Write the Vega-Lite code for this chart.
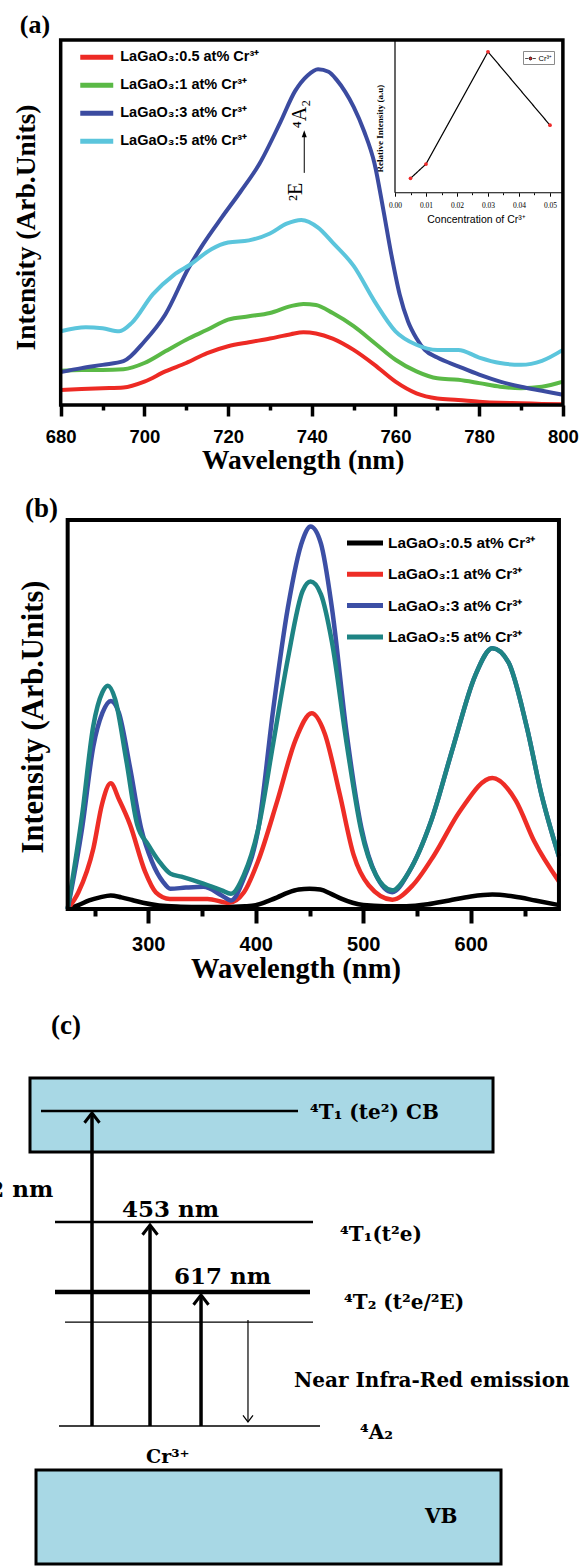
{
  "$schema": "https://vega.github.io/schema/vega-lite/v6.json",
  "background": "white",
  "padding": 0,
  "spacing": 0,
  "bounds": "flush",
  "resolve": {"scale": {"color": "independent", "strokeDash": "independent"}, "legend": {"color": "independent"}},
  "config": {
    "view": {"stroke": null},
    "font": "Liberation Sans",
    "axis": {"grid": false, "domain": false, "labelColor": "black", "titleColor": "black", "tickColor": "black"}
  },
  "datasets": {
    "specA": [
      {"s":"0.5","x":680,"y":4.1},{"s":"0.5","x":685,"y":4.4},{"s":"0.5","x":690,"y":4.6},{"s":"0.5","x":695,"y":4.8},{"s":"0.5","x":700,"y":6.4},{"s":"0.5","x":705,"y":9.2},{"s":"0.5","x":710,"y":11.5},{"s":"0.5","x":715,"y":14.2},{"s":"0.5","x":720,"y":16.1},{"s":"0.5","x":725,"y":17.2},{"s":"0.5","x":730,"y":18.2},{"s":"0.5","x":735,"y":19.4},{"s":"0.5","x":738,"y":19.9},{"s":"0.5","x":741,"y":19.6},{"s":"0.5","x":745,"y":18.2},{"s":"0.5","x":750,"y":15.1},{"s":"0.5","x":755,"y":11.0},{"s":"0.5","x":760,"y":6.4},{"s":"0.5","x":765,"y":3.2},{"s":"0.5","x":770,"y":1.8},{"s":"0.5","x":775,"y":1.4},{"s":"0.5","x":780,"y":0.9},{"s":"0.5","x":785,"y":0.6},{"s":"0.5","x":790,"y":0.5},{"s":"0.5","x":795,"y":0.3},{"s":"0.5","x":800,"y":0.2},
      {"s":"1","x":680,"y":9.4},{"s":"1","x":685,"y":9.6},{"s":"1","x":690,"y":9.6},{"s":"1","x":695,"y":9.8},{"s":"1","x":700,"y":11.5},{"s":"1","x":705,"y":14.7},{"s":"1","x":710,"y":17.9},{"s":"1","x":715,"y":20.6},{"s":"1","x":720,"y":23.4},{"s":"1","x":725,"y":24.3},{"s":"1","x":730,"y":25.2},{"s":"1","x":735,"y":27.1},{"s":"1","x":738,"y":27.7},{"s":"1","x":741,"y":27.4},{"s":"1","x":745,"y":25.2},{"s":"1","x":750,"y":21.6},{"s":"1","x":755,"y":17.0},{"s":"1","x":760,"y":12.4},{"s":"1","x":765,"y":9.2},{"s":"1","x":770,"y":7.3},{"s":"1","x":775,"y":6.9},{"s":"1","x":780,"y":6.0},{"s":"1","x":785,"y":5.0},{"s":"1","x":790,"y":4.6},{"s":"1","x":795,"y":5.0},{"s":"1","x":800,"y":6.4},
      {"s":"3","x":680,"y":9.0},{"s":"3","x":685,"y":10.1},{"s":"3","x":690,"y":11.0},{"s":"3","x":695,"y":12.0},{"s":"3","x":700,"y":17.4},{"s":"3","x":705,"y":24.8},{"s":"3","x":710.5,"y":37.4},{"s":"3","x":714,"y":44.0},{"s":"3","x":718.5,"y":51.4},{"s":"3","x":723,"y":58.5},{"s":"3","x":727.5,"y":66.1},{"s":"3","x":732.5,"y":77.5},{"s":"3","x":736,"y":86.0},{"s":"3","x":739,"y":90.3},{"s":"3","x":741.5,"y":92.0},{"s":"3","x":744,"y":91.3},{"s":"3","x":746,"y":89.0},{"s":"3","x":748,"y":85.8},{"s":"3","x":750,"y":81.7},{"s":"3","x":752.5,"y":75.0},{"s":"3","x":755,"y":66.1},{"s":"3","x":757,"y":54.1},{"s":"3","x":759,"y":41.3},{"s":"3","x":761,"y":30.3},{"s":"3","x":763,"y":22.9},{"s":"3","x":765,"y":18.3},{"s":"3","x":767,"y":15.1},{"s":"3","x":770,"y":13.0},{"s":"3","x":775,"y":10.6},{"s":"3","x":780,"y":8.3},{"s":"3","x":785,"y":6.4},{"s":"3","x":790,"y":5.0},{"s":"3","x":795,"y":3.9},{"s":"3","x":800,"y":2.8},
      {"s":"5","x":680,"y":20.2},{"s":"5","x":686,"y":21.3},{"s":"5","x":690,"y":21.0},{"s":"5","x":694,"y":20.2},{"s":"5","x":697,"y":22.5},{"s":"5","x":702,"y":30.3},{"s":"5","x":707,"y":35.6},{"s":"5","x":711,"y":38.5},{"s":"5","x":716,"y":42.7},{"s":"5","x":720,"y":44.5},{"s":"5","x":725,"y":45.1},{"s":"5","x":730,"y":47.0},{"s":"5","x":734,"y":49.7},{"s":"5","x":737.5,"y":50.7},{"s":"5","x":741.5,"y":48.6},{"s":"5","x":745,"y":44.5},{"s":"5","x":750,"y":38.1},{"s":"5","x":755,"y":28.4},{"s":"5","x":760,"y":20.2},{"s":"5","x":765,"y":16.5},{"s":"5","x":770,"y":15.1},{"s":"5","x":775,"y":15.1},{"s":"5","x":780,"y":13.0},{"s":"5","x":785,"y":11.5},{"s":"5","x":790,"y":11.0},{"s":"5","x":795,"y":12.1},{"s":"5","x":800,"y":15.1}
    ],
    "specB": [
      {"s":"0.5","x":225,"y":0},{"s":"0.5","x":235,"y":1.0},{"s":"0.5","x":245,"y":2.2},{"s":"0.5","x":255,"y":3.0},{"s":"0.5","x":265,"y":3.5},{"s":"0.5","x":275,"y":3.0},{"s":"0.5","x":285,"y":2.3},{"s":"0.5","x":295,"y":1.6},{"s":"0.5","x":310,"y":0.9},{"s":"0.5","x":330,"y":0.6},{"s":"0.5","x":350,"y":0.5},{"s":"0.5","x":370,"y":0.5},{"s":"0.5","x":390,"y":0.7},{"s":"0.5","x":400,"y":1.0},{"s":"0.5","x":410,"y":1.9},{"s":"0.5","x":420,"y":3.0},{"s":"0.5","x":430,"y":4.2},{"s":"0.5","x":440,"y":5.0},{"s":"0.5","x":450,"y":5.2},{"s":"0.5","x":460,"y":5.0},{"s":"0.5","x":470,"y":3.9},{"s":"0.5","x":480,"y":2.6},{"s":"0.5","x":490,"y":1.6},{"s":"0.5","x":500,"y":1.0},{"s":"0.5","x":520,"y":0.7},{"s":"0.5","x":540,"y":0.7},{"s":"0.5","x":560,"y":1.2},{"s":"0.5","x":580,"y":2.2},{"s":"0.5","x":600,"y":3.2},{"s":"0.5","x":620,"y":3.7},{"s":"0.5","x":640,"y":3.2},{"s":"0.5","x":660,"y":2.2},{"s":"0.5","x":682,"y":1.0},
      {"s":"1","x":225,"y":0},{"s":"1","x":235,"y":4.3},{"s":"1","x":249,"y":15.7},{"s":"1","x":257,"y":27.0},{"s":"1","x":265,"y":32.3},{"s":"1","x":273,"y":28.0},{"s":"1","x":283,"y":21.7},{"s":"1","x":297,"y":9.6},{"s":"1","x":307,"y":4.3},{"s":"1","x":320,"y":2.6},{"s":"1","x":355,"y":2.6},{"s":"1","x":375,"y":1.6},{"s":"1","x":389,"y":4.3},{"s":"1","x":402,"y":12.2},{"s":"1","x":420,"y":27.8},{"s":"1","x":437,"y":43.5},{"s":"1","x":452,"y":50.3},{"s":"1","x":464,"y":45.2},{"s":"1","x":478,"y":29.6},{"s":"1","x":491,"y":13.9},{"s":"1","x":505,"y":6.1},{"s":"1","x":527,"y":2.4},{"s":"1","x":546,"y":6.1},{"s":"1","x":566,"y":13.9},{"s":"1","x":590,"y":25.2},{"s":"1","x":620,"y":33.7},{"s":"1","x":642,"y":27.8},{"s":"1","x":659,"y":17.4},{"s":"1","x":682,"y":7.1},
      {"s":"3","x":225,"y":0},{"s":"3","x":238.5,"y":20.9},{"s":"3","x":248.8,"y":41.7},{"s":"3","x":257.3,"y":50.4},{"s":"3","x":265.2,"y":53.5},{"s":"3","x":272.7,"y":50.4},{"s":"3","x":282.9,"y":36.5},{"s":"3","x":293.2,"y":20.9},{"s":"3","x":303.4,"y":12.2},{"s":"3","x":313.7,"y":7.0},{"s":"3","x":320.5,"y":5.2},{"s":"3","x":335,"y":5.5},{"s":"3","x":351.2,"y":5.7},{"s":"3","x":368.3,"y":3.5},{"s":"3","x":376.9,"y":2.2},{"s":"3","x":388.8,"y":7.8},{"s":"3","x":402.5,"y":20.9},{"s":"3","x":416.2,"y":51.3},{"s":"3","x":429.8,"y":77.4},{"s":"3","x":443.5,"y":94.8},{"s":"3","x":451,"y":98.3},{"s":"3","x":460.6,"y":93.9},{"s":"3","x":470.8,"y":77.4},{"s":"3","x":484.5,"y":45.2},{"s":"3","x":498.2,"y":20.9},{"s":"3","x":511.8,"y":8.7},{"s":"3","x":526.9,"y":4.3},{"s":"3","x":542.6,"y":9.6},{"s":"3","x":563.1,"y":22.6},{"s":"3","x":583.6,"y":41.7},{"s":"3","x":604.1,"y":60.0},{"s":"3","x":620.1,"y":67.0},{"s":"3","x":634.8,"y":63.5},{"s":"3","x":651.9,"y":47.0},{"s":"3","x":665.6,"y":29.6},{"s":"3","x":682,"y":13.5},
      {"s":"5","x":225,"y":0},{"s":"5","x":238.5,"y":24.3},{"s":"5","x":248.8,"y":47.0},{"s":"5","x":257.3,"y":55.7},{"s":"5","x":262.4,"y":57.4},{"s":"5","x":269.2,"y":53.9},{"s":"5","x":279.5,"y":38.3},{"s":"5","x":289.7,"y":21.7},{"s":"5","x":300,"y":16.5},{"s":"5","x":310.2,"y":12.2},{"s":"5","x":320.5,"y":9.1},{"s":"5","x":330.8,"y":8.3},{"s":"5","x":351.2,"y":6.5},{"s":"5","x":368.3,"y":4.8},{"s":"5","x":376.9,"y":3.9},{"s":"5","x":388.8,"y":8.7},{"s":"5","x":402.5,"y":20.9},{"s":"5","x":416.2,"y":42.6},{"s":"5","x":429.8,"y":64.3},{"s":"5","x":443.5,"y":81.7},{"s":"5","x":451,"y":84.2},{"s":"5","x":460.6,"y":80.9},{"s":"5","x":470.8,"y":68.7},{"s":"5","x":484.5,"y":42.6},{"s":"5","x":498.2,"y":20.0},{"s":"5","x":511.8,"y":8.7},{"s":"5","x":526.9,"y":4.8},{"s":"5","x":542.6,"y":9.6},{"s":"5","x":563.1,"y":22.6},{"s":"5","x":583.6,"y":41.7},{"s":"5","x":604.1,"y":60.0},{"s":"5","x":620.1,"y":67.0},{"s":"5","x":634.8,"y":63.5},{"s":"5","x":651.9,"y":47.0},{"s":"5","x":665.6,"y":29.6},{"s":"5","x":682,"y":13.5}
    ],
    "inset": [
      {"c":0.005,"r":9.4},{"c":0.01,"r":18.8},{"c":0.03,"r":92.3},{"c":0.05,"r":44.2}
    ],
    "levels": [
      {"lv":"CB","x1":7.08,"x2":51.47,"e":69.3,"kind":"mid"},
      {"lv":"4T1","x1":9.5,"x2":54.06,"e":52.43,"kind":"mid"},
      {"lv":"4T2","x1":9.5,"x2":53.54,"e":41.79,"kind":"heavy"},
      {"lv":"2E","x1":11.23,"x2":54.06,"e":37.23,"kind":"light"},
      {"lv":"4A2","x1":10.19,"x2":55.27,"e":21.43,"kind":"light"}
    ],
    "arrows": [
      {"a":"262","x":15.89,"e1":21.43,"e2":69.0,"kind":"up"},
      {"a":"453","x":25.91,"e1":21.43,"e2":51.98,"kind":"up"},
      {"a":"617","x":34.72,"e1":21.43,"e2":41.34,"kind":"up"},
      {"a":"NIR","x":42.83,"e1":37.54,"e2":22.04,"kind":"down"}
    ],
    "labelsC": [
      {"t":"⁴T₁ (te²) CB","x":53.54,"e":69.0,"kind":"lvl"},
      {"t":"⁴T₁(t²e)","x":58.72,"e":50.46,"kind":"lvl"},
      {"t":"⁴T₂ (t²e/²E)","x":59.41,"e":40.12,"kind":"lvl"},
      {"t":"Near Infra-Red emission","x":50.78,"e":28.27,"kind":"lvl"},
      {"t":"⁴A₂","x":62.18,"e":20.36,"kind":"lvl"},
      {"t":"VB","x":73.4,"e":7.6,"kind":"lvl"},
      {"t":"453 nm","x":21.07,"e":54.26,"kind":"nm"},
      {"t":"617 nm","x":30.05,"e":44.07,"kind":"nm"},
      {"t":"262 nm","x":9.21,"e":57.29,"kind":"cut"},
      {"t":"Cr³⁺","x":25.22,"e":16.72,"kind":"small"},
      {"t":"(c)","x":11.4,"e":82.22,"kind":"panel"}
    ]
  },
  "vconcat": [
    {
      "width": 579,
      "height": 405,
      "layer": [
        {
          "layer": [
            {
              "data": {"name": "specA"},
              "mark": {"type": "line", "strokeWidth": 4, "interpolate": "monotone"},
              "encoding": {
                "x": {"field": "x", "type": "quantitative",
                  "scale": {"domain": [665.5, 803.85], "zero": false, "nice": false},
                  "axis": {"orient": "bottom", "values": [680,690,700,710,720,730,740,750,760,770,780,790,800],
                    "labelExpr": "datum.value % 20 === 0 ? datum.label : ''",
                    "tickSize": {"condition": {"test": "datum.value % 20 === 0", "value": 11}, "value": 5},
                    "tickWidth": 3.5, "labelFont": "Liberation Sans", "labelFontWeight": "bold", "labelFontSize": 18.5,
                    "labelPadding": 11, "labelFlush": false, "labelOverlap": false,
                    "title": "Wavelength (nm)", "titleFont": "Liberation Serif", "titleFontWeight": "bold", "titleFontSize": 27.5,
                    "titleX": 302.7, "titleY": 63.3, "titleBaseline": "alphabetic"}},
                "y": {"field": "y", "type": "quantitative",
                  "scale": {"domain": [0, 110.96], "zero": false, "nice": false},
                  "axis": {"orient": "left", "labels": false, "ticks": false, "title": "Intensity (Arb.Units)",
                    "titleFont": "Liberation Serif", "titleFontWeight": "bold", "titleFontSize": 27.5,
                    "titleX": 26, "titleY": 227, "titleBaseline": "middle"}},
                "color": {"field": "s", "type": "nominal",
                  "scale": {"domain": ["0.5", "1", "3", "5"], "range": ["#ed2a24", "#5ab946", "#3b4ba0", "#5bc5dc"]},
                  "legend": {"orient": "none", "legendX": 80, "legendY": 46.25, "title": null, "padding": 0,
                    "symbolType": "M-2,0H2", "symbolSize": 272, "symbolStrokeWidth": 5, "symbolOffset": 5.75,
                    "labelOffset": 12.5, "labelFont": "Liberation Sans", "labelFontWeight": "bold", "labelFontSize": 14.5,
                    "labelColor": "black", "labelLimit": 300, "rowPadding": 7,
                    "labelExpr": "'LaGaO₃:' + datum.label + ' at% Cr³⁺'"}}
              }
            },
            {
              "data": {"values": [{"x": 680, "x2": 800, "y": 0, "y2": 100}]},
              "mark": {"type": "rect", "filled": false, "color": "black", "strokeWidth": 3.5},
              "encoding": {
                "x": {"field": "x", "type": "quantitative"}, "x2": {"field": "x2"},
                "y": {"field": "y", "type": "quantitative"}, "y2": {"field": "y2"}
              }
            },
            {
              "data": {"values": [{"t": "(a)", "x": 673.86, "y": 104.1}]},
              "mark": {"type": "text", "font": "Liberation Serif", "fontWeight": "bold", "fontSize": 26, "align": "center", "baseline": "middle", "color": "black"},
              "encoding": {"x": {"field": "x", "type": "quantitative"}, "y": {"field": "y", "type": "quantitative"}, "text": {"field": "t"}}
            },
            {
              "data": {"values": [{"t": "⁴A₂", "x": 737.2, "y": 79.7}, {"t": "²E", "x": 736.2, "y": 58.4}]},
              "mark": {"type": "text", "font": "Liberation Serif", "fontSize": 20, "angle": 270, "align": "center", "baseline": "middle", "color": "black"},
              "encoding": {"x": {"field": "x", "type": "quantitative"}, "y": {"field": "y", "type": "quantitative"}, "text": {"field": "t"}}
            },
            {
              "data": {"values": [{"x": 738.2, "y": 63.6, "y2": 73.5}]},
              "mark": {"type": "rule", "strokeWidth": 1, "color": "black"},
              "encoding": {"x": {"field": "x", "type": "quantitative"}, "y": {"field": "y", "type": "quantitative"}, "y2": {"field": "y2"}}
            },
            {
              "data": {"values": [{"x": 738.2, "y": 75.3}]},
              "mark": {"type": "point", "shape": "M-1,2.8L0,0L1,2.8Z", "size": 25, "filled": true, "color": "black", "opacity": 1},
              "encoding": {"x": {"field": "x", "type": "quantitative"}, "y": {"field": "y", "type": "quantitative"}}
            }
          ]
        },
        {
          "layer": [
            {
              "data": {"values": [{"c": 0, "c2": 0.0542, "r": 0, "r2": 0}, {"c": 0, "c2": 0, "r": 0, "r2": 100}]},
              "mark": {"type": "rule", "strokeWidth": 1.2, "color": "black"},
              "encoding": {
                "x": {"field": "c", "type": "quantitative",
                  "scale": {"domain": [-0.12742, 0.059355], "zero": false, "nice": false},
                  "axis": {"orient": "bottom", "offset": -212.3, "values": [0,0.005,0.01,0.015,0.02,0.025,0.03,0.035,0.04,0.045,0.05],
                    "labelExpr": "abs(datum.value*100 - round(datum.value*100)) < 0.001 ? format(datum.value, '.2f') : ''",
                    "tickSize": {"condition": {"test": "abs(datum.value*100 - round(datum.value*100)) < 0.001", "value": 3.5}, "value": 2},
                    "tickWidth": 1, "labelFont": "Liberation Sans Narrow", "labelFontSize": 7.5, "labelPadding": 5.5,
                    "labelFlush": false, "labelOverlap": false,
                    "title": "Concentration of Cr³⁺", "titleFont": "Liberation Sans", "titleFontWeight": "normal", "titleFontSize": 10.5,
                    "titleX": 476, "titleY": 30, "titleBaseline": "alphabetic"}},
                "x2": {"field": "c2"},
                "y": {"field": "r", "type": "quantitative",
                  "scale": {"domain": [-139.0, 126.2], "zero": false, "nice": false},
                  "axis": {"orient": "left", "offset": -395, "labels": false, "ticks": false,
                    "title": "Relative Intensity (a.u)", "titleFont": "Liberation Serif", "titleFontWeight": "bold", "titleFontSize": 9,
                    "titleX": -16, "titleY": 128, "titleBaseline": "middle"}},
                "y2": {"field": "r2"}
              }
            },
            {
              "data": {"name": "inset"},
              "mark": {"type": "line", "strokeWidth": 1.2, "color": "black"},
              "encoding": {
                "x": {"field": "c", "type": "quantitative"},
                "y": {"field": "r", "type": "quantitative"},
                "strokeDash": {"datum": "Cr³⁺", "scale": {"range": [[1, 0]]},
                  "legend": {"orient": "none", "legendX": 523, "legendY": 51, "title": null, "padding": 1.5,
                    "strokeColor": "#8a8a8a", "symbolType": "M-1,0H-0.45M-0.28,0A0.28,0.28 0 1,1 0.28,0A0.28,0.28 0 1,1 -0.28,0M0.45,0H1",
                    "symbolSize": 110, "symbolStrokeColor": "black", "symbolStrokeWidth": 0.8, "symbolFillColor": "#e52a2a",
                    "labelFontSize": 7.5, "labelOffset": 2, "labelColor": "black"}}
              }
            },
            {
              "data": {"name": "inset"},
              "mark": {"type": "point", "filled": true, "size": 14, "color": "#ee2a2a", "opacity": 1},
              "encoding": {"x": {"field": "c", "type": "quantitative"}, "y": {"field": "r", "type": "quantitative"}}
            }
          ]
        }
      ],
      "resolve": {"scale": {"x": "independent", "y": "independent"}, "axis": {"x": "independent", "y": "independent"}}
    },
    {
      "width": 579,
      "height": 504,
      "layer": [
        {
          "data": {"name": "specB"},
          "mark": {"type": "line", "strokeWidth": 4.5, "interpolate": "monotone"},
          "encoding": {
            "x": {"field": "x", "type": "quantitative",
              "scale": {"domain": [162.05, 700.65], "zero": false, "nice": false},
              "axis": {"orient": "bottom", "values": [250,300,350,400,450,500,550,600,650],
                "labelExpr": "datum.value % 100 === 0 ? datum.label : ''",
                "tickSize": {"condition": {"test": "datum.value % 100 === 0", "value": 14}, "value": 7},
                "tickWidth": 4, "labelFont": "Liberation Sans", "labelFontWeight": "bold", "labelFontSize": 20,
                "labelPadding": 11, "labelFlush": false, "labelOverlap": false,
                "title": "Wavelength (nm)", "titleFont": "Liberation Serif", "titleFontWeight": "bold", "titleFontSize": 28.5,
                "titleX": 295.5, "titleY": 68, "titleBaseline": "alphabetic"}},
            "y": {"field": "y", "type": "quantitative",
              "scale": {"domain": [0, 129.56], "zero": false, "nice": false},
              "axis": {"orient": "left", "labels": false, "ticks": false, "title": "Intensity (Arb.Units)",
                "titleFont": "Liberation Serif", "titleFontWeight": "bold", "titleFontSize": 30.5,
                "titleX": 33, "titleY": 311.5, "titleBaseline": "middle"}},
            "color": {"field": "s", "type": "nominal",
              "scale": {"domain": ["0.5", "1", "3", "5"], "range": ["#000000", "#ee2d26", "#3c4fa5", "#1e8484"]},
              "legend": {"orient": "none", "legendX": 347, "legendY": 126.5, "title": null, "padding": 0,
                "symbolType": "M-2,0H2", "symbolSize": 324, "symbolStrokeWidth": 5, "symbolOffset": 6.5,
                "labelOffset": 11.5, "labelFont": "Liberation Sans", "labelFontWeight": "bold", "labelFontSize": 15.4,
                "labelColor": "black", "labelLimit": 300, "rowPadding": 9.3,
                "labelExpr": "'LaGaO₃:' + datum.label + ' at% Cr³⁺'"}}
          }
        },
        {
          "data": {"values": [{"x": 225, "x2": 682, "y": 0, "y2": 100}]},
          "mark": {"type": "rect", "filled": false, "color": "black", "strokeWidth": 4},
          "encoding": {
            "x": {"field": "x", "type": "quantitative"}, "x2": {"field": "x2"},
            "y": {"field": "y", "type": "quantitative"}, "y2": {"field": "y2"}
          }
        },
        {
          "data": {"values": [{"t": "(b)", "x": 200.65, "y": 102.9}]},
          "mark": {"type": "text", "font": "Liberation Serif", "fontWeight": "bold", "fontSize": 27, "align": "center", "baseline": "middle", "color": "black"},
          "encoding": {"x": {"field": "x", "type": "quantitative"}, "y": {"field": "y", "type": "quantitative"}, "text": {"field": "t"}}
        }
      ]
    },
    {
      "width": 579,
      "height": 658,
      "layer": [
        {
          "data": {"values": [{"b": "CB", "x1": 5.18, "x2": 85.15, "e1": 63.07, "e2": 74.32}, {"b": "VB", "x1": 6.22, "x2": 86.53, "e1": 0.46, "e2": 14.74}]},
          "mark": {"type": "rect", "fill": "#a8d8e5", "stroke": "black", "strokeWidth": 3},
          "encoding": {
            "x": {"field": "x1", "type": "quantitative", "scale": {"domain": [0, 100], "zero": false, "nice": false}, "axis": null},
            "x2": {"field": "x2"},
            "y": {"field": "e1", "type": "quantitative", "scale": {"domain": [0, 100], "zero": false, "nice": false}, "axis": null},
            "y2": {"field": "e2"}
          }
        },
        {
          "data": {"name": "levels"},
          "transform": [{"filter": "datum.kind === 'mid'"}],
          "mark": {"type": "rule", "strokeWidth": 2.5, "color": "black"},
          "encoding": {"x": {"field": "x1", "type": "quantitative"}, "x2": {"field": "x2"}, "y": {"field": "e", "type": "quantitative"}}
        },
        {
          "data": {"name": "levels"},
          "transform": [{"filter": "datum.kind === 'heavy'"}],
          "mark": {"type": "rule", "strokeWidth": 4.5, "color": "black"},
          "encoding": {"x": {"field": "x1", "type": "quantitative"}, "x2": {"field": "x2"}, "y": {"field": "e", "type": "quantitative"}}
        },
        {
          "data": {"name": "levels"},
          "transform": [{"filter": "datum.kind === 'light'"}],
          "mark": {"type": "rule", "strokeWidth": 1.3, "color": "black"},
          "encoding": {"x": {"field": "x1", "type": "quantitative"}, "x2": {"field": "x2"}, "y": {"field": "e", "type": "quantitative"}}
        },
        {
          "data": {"name": "arrows"},
          "transform": [{"filter": "datum.kind === 'up'"}],
          "mark": {"type": "rule", "strokeWidth": 3.5, "color": "black"},
          "encoding": {"x": {"field": "x", "type": "quantitative"}, "y": {"field": "e1", "type": "quantitative"}, "y2": {"field": "e2"}}
        },
        {
          "data": {"name": "arrows"},
          "transform": [{"filter": "datum.kind === 'up'"}],
          "mark": {"type": "point", "shape": "M-1,1.3L0,0L1,1.3", "size": 225, "filled": false, "color": "black", "strokeWidth": 3, "opacity": 1},
          "encoding": {"x": {"field": "x", "type": "quantitative"}, "y": {"field": "e2", "type": "quantitative"}}
        },
        {
          "data": {"name": "arrows"},
          "transform": [{"filter": "datum.kind === 'down'"}],
          "mark": {"type": "rule", "strokeWidth": 1.2, "color": "black"},
          "encoding": {"x": {"field": "x", "type": "quantitative"}, "y": {"field": "e1", "type": "quantitative"}, "y2": {"field": "e2"}}
        },
        {
          "data": {"name": "arrows"},
          "transform": [{"filter": "datum.kind === 'down'"}],
          "mark": {"type": "point", "shape": "M-1,-1.3L0,0L1,-1.3", "size": 100, "filled": false, "color": "black", "strokeWidth": 1.2, "opacity": 1},
          "encoding": {"x": {"field": "x", "type": "quantitative"}, "y": {"field": "e2", "type": "quantitative"}}
        },
        {
          "data": {"name": "labelsC"},
          "transform": [{"filter": "datum.kind === 'lvl'"}],
          "mark": {"type": "text", "font": "DejaVu Serif", "fontWeight": "bold", "fontSize": 20, "align": "left", "baseline": "middle", "color": "black", "clip": true},
          "encoding": {"x": {"field": "x", "type": "quantitative"}, "y": {"field": "e", "type": "quantitative"}, "text": {"field": "t"}}
        },
        {
          "data": {"name": "labelsC"},
          "transform": [{"filter": "datum.kind === 'nm'"}],
          "mark": {"type": "text", "font": "DejaVu Serif", "fontWeight": "bold", "fontSize": 23, "align": "left", "baseline": "middle", "color": "black", "clip": true},
          "encoding": {"x": {"field": "x", "type": "quantitative"}, "y": {"field": "e", "type": "quantitative"}, "text": {"field": "t"}}
        },
        {
          "data": {"name": "labelsC"},
          "transform": [{"filter": "datum.kind === 'cut'"}],
          "mark": {"type": "text", "font": "DejaVu Serif", "fontWeight": "bold", "fontSize": 23, "align": "right", "baseline": "middle", "color": "black", "clip": true},
          "encoding": {"x": {"field": "x", "type": "quantitative"}, "y": {"field": "e", "type": "quantitative"}, "text": {"field": "t"}}
        },
        {
          "data": {"name": "labelsC"},
          "transform": [{"filter": "datum.kind === 'small'"}],
          "mark": {"type": "text", "font": "DejaVu Serif", "fontWeight": "bold", "fontSize": 19, "align": "left", "baseline": "middle", "color": "black", "clip": true},
          "encoding": {"x": {"field": "x", "type": "quantitative"}, "y": {"field": "e", "type": "quantitative"}, "text": {"field": "t"}}
        },
        {
          "data": {"name": "labelsC"},
          "transform": [{"filter": "datum.kind === 'panel'"}],
          "mark": {"type": "text", "font": "Liberation Serif", "fontWeight": "bold", "fontSize": 27, "align": "center", "baseline": "middle", "color": "black", "clip": true},
          "encoding": {"x": {"field": "x", "type": "quantitative"}, "y": {"field": "e", "type": "quantitative"}, "text": {"field": "t"}}
        }
      ]
    }
  ]
}
